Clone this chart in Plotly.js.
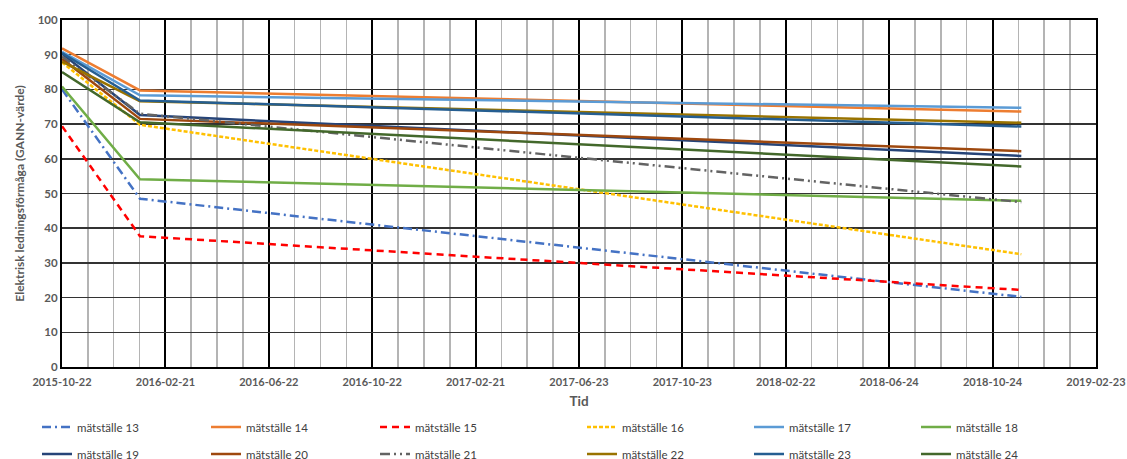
<!DOCTYPE html>
<html>
<head>
<meta charset="utf-8">
<script src="https://cdn.plot.ly/plotly-3.0.1.min.js"></script>
<style>html,body{margin:0;padding:0;background:#fff;}#chart{width:1127px;height:459px;}</style>
</head>
<body>
<div id="chart"></div>
<script>
// Measurement dates
const dates = ['2015-10-22', '2016-01-22', '2018-11-27'];

// Series values (GANN-värde)
const s13 = [80.0, 48.5, 20.2];
const s14 = [91.8, 79.7, 73.6];
const s15 = [69.4, 37.7, 22.2];
const s16 = [87.8, 69.8, 32.5];
const s17 = [90.8, 78.3, 74.7];
const s18 = [80.8, 54.1, 47.9];
const s19 = [90.3, 72.6, 60.8];
const s20 = [88.8, 71.5, 62.2];
const s21 = [89.5, 73.0, 47.5];
const s22 = [88.0, 76.6, 70.4];
const s23 = [90.5, 76.8, 69.3];
const s24 = [85.0, 70.5, 57.8];

const seriesNames = ['mätställe 13','mätställe 14','mätställe 15','mätställe 16','mätställe 17','mätställe 18',
                     'mätställe 19','mätställe 20','mätställe 21','mätställe 22','mätställe 23','mätställe 24'];
const seriesValues = [s13,s14,s15,s16,s17,s18,s19,s20,s21,s22,s23,s24];

// Tick labels
const xTickLabels = ['2015-10-22','2016-02-21','2016-06-22','2016-10-22','2017-02-21','2017-06-23',
                     '2017-10-23','2018-02-22','2018-06-24','2018-10-24','2019-02-23'];
const yTickValues = [0,10,20,30,40,50,60,70,80,90,100];

const colors = ['#4472C4','#ED7D31','#FF0000','#FFC000','#5B9BD5','#70AD47',
                '#264478','#9E480E','#636363','#997300','#255E91','#43682B'];
const dashes = ['9px,4px,2px,4px','solid','7px,5px','4px,2px','solid','solid',
                'solid','solid','10px,4px,2px,4px,2px,4px','solid','solid','solid'];
// legend group for each series: row 1 left/right, row 2 left/right
const legendIds = ['legend','legend','legend','legend3','legend3','legend3',
                   'legend2','legend2','legend2','legend4','legend4','legend4'];

const traces = seriesNames.map((n, i) => ({
  type: 'scatter', mode: 'lines', name: n,
  x: dates, y: seriesValues[i],
  line: {color: colors[i], width: 2.5, dash: dashes[i]},
  legend: legendIds[i],
  hoverinfo: 'skip'
}));

const font = 'Lato, "Open Sans", "DejaVu Sans", sans-serif';
function mkLegend(xpx, ypx, ew) {
  return {
    orientation: 'h', xref: 'container', yref: 'container',
    xanchor: 'left', yanchor: 'middle',
    x: xpx / 1127, y: 1 - ypx / 459,
    entrywidth: ew, entrywidthmode: 'pixels', itemwidth: 30,
    font: {family: font, size: 11.5, color: '#404040'},
    bgcolor: 'rgba(0,0,0,0)', traceorder: 'normal'
  };
}

const layout = {
  width: 1127, height: 459,
  margin: {l: 62, r: 31, t: 20, b: 91.5},
  paper_bgcolor: '#fff', plot_bgcolor: '#fff',
  font: {family: font},
  xaxis: {
    type: 'date',
    range: [xTickLabels[0], xTickLabels[xTickLabels.length - 1] + ' 03:00'],
    tickmode: 'array', tickvals: xTickLabels, ticktext: xTickLabels,
    tickfont: {family: font, size: 11, color: '#595959', weight: 'bold'},
    ticklabelstandoff: 4,
    showgrid: true, gridcolor: '#000', gridwidth: 2,
    minor: {dtick: 30.5 * 86400000, tick0: xTickLabels[0], showgrid: true, gridcolor: '#b4b4b4', gridwidth: 1.6, ticks: ''},
    showline: true, linecolor: '#000', linewidth: 2, mirror: true,
    ticks: '', ticklen: 0,
    title: {text: 'Tid', font: {family: font, size: 13.5, color: '#595959', weight: 'bold'}, standoff: 9},
    zeroline: false, fixedrange: true
  },
  yaxis: {
    range: [0, 100], tickmode: 'array', tickvals: yTickValues,
    tickfont: {family: font, size: 11.5, color: '#595959', weight: 'bold'},
    showgrid: true, gridcolor: '#333', gridwidth: 1.5,
    showline: true, linecolor: '#000', linewidth: 2, mirror: true,
    ticks: '', zeroline: false,
    title: {text: 'Elektrisk ledningsförmåga (GANN-värde)', font: {family: font, size: 12, color: '#595959', weight: 'bold'}, standoff: 10},
    fixedrange: true
  },
  legend: mkLegend(37, 427, 124),
  legend2: mkLegend(37, 454, 124),
  legend3: mkLegend(582, 427, 122),
  legend4: mkLegend(582, 454, 122),
  showlegend: true
};

Plotly.newPlot('chart', traces, layout, {displayModeBar: false, staticPlot: true});
</script>
</body>
</html>
